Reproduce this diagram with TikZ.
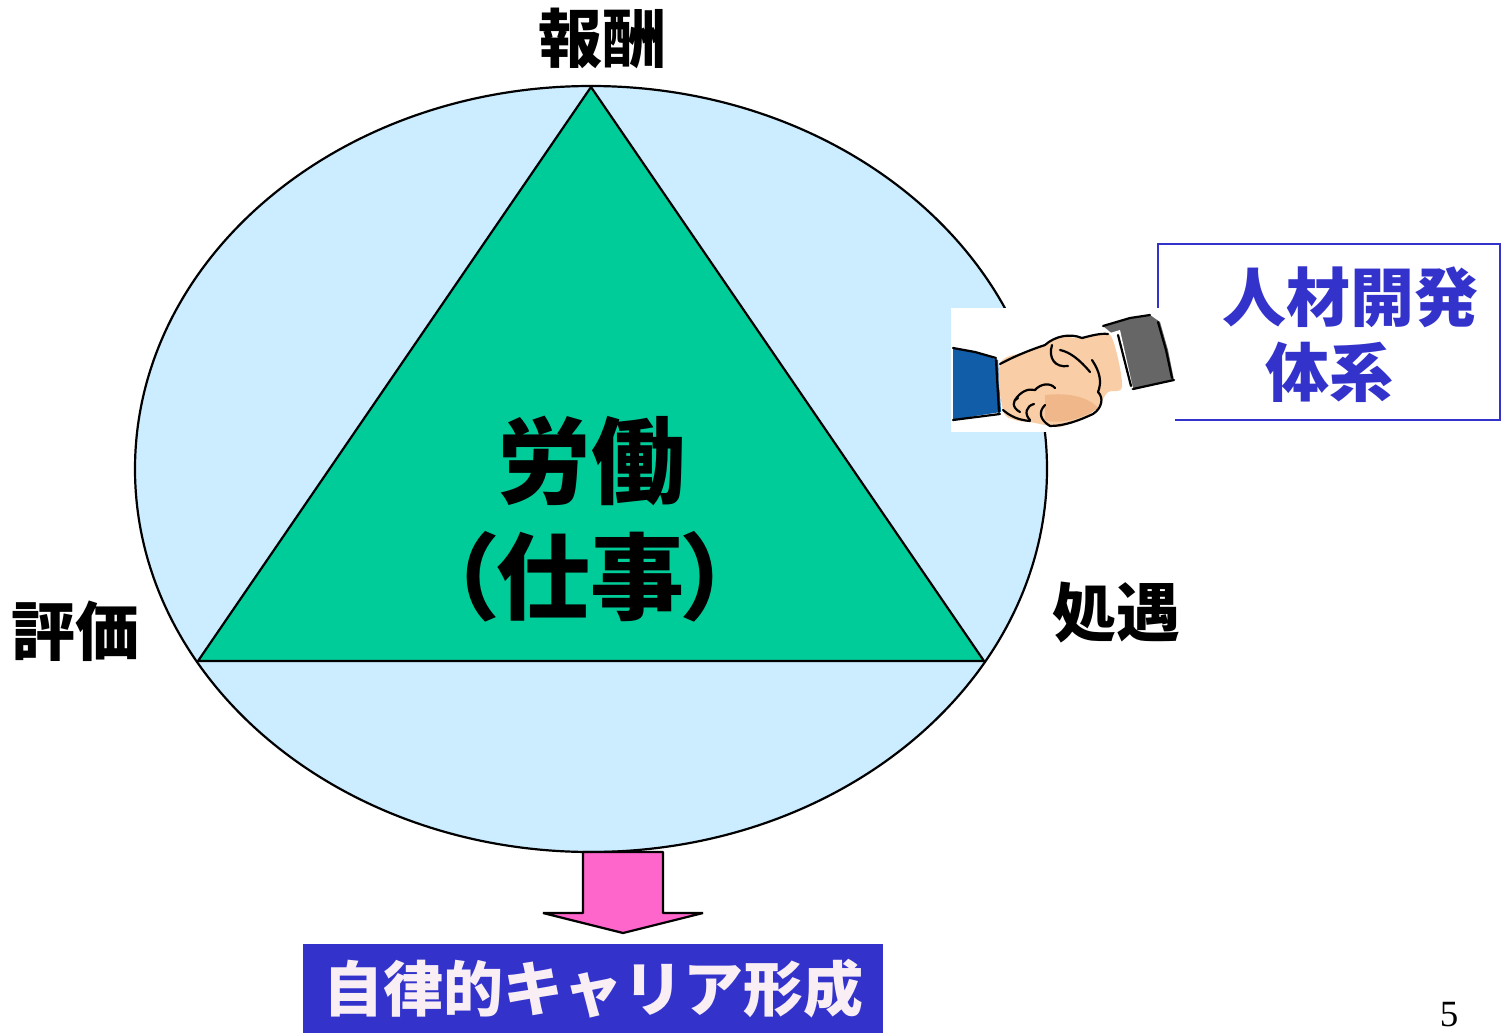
\documentclass[tikz,border=0pt]{standalone}
\usepackage{fontspec}
\newfontfamily\jp{Noto Sans CJK JP}
\newfontfamily\jpp{Noto Sans CJK JP}[RawFeature=+palt]
\setmainfont{Liberation Serif}
\definecolor{skyfill}{HTML}{CCECFF}
\definecolor{workgreen}{HTML}{00CC99}
\definecolor{arrowpink}{HTML}{FF66CC}
\definecolor{indigo}{HTML}{3333CC}
\definecolor{paletext}{HTML}{F8EEF4}
\definecolor{skin}{HTML}{F9CDA5}
\definecolor{skindark}{HTML}{F0B88A}
\definecolor{sleeveblue}{HTML}{125DA8}
\definecolor{sleevegray}{HTML}{666666}
\tikzset{
  corner/.style={font=\jp\bfseries\fontsize{64}{70}\selectfont, inner sep=0pt},
  center/.style={font=\jpp\bfseries\fontsize{94}{100}\selectfont, inner sep=0pt},
  bluetext/.style={font=\jp\bfseries\fontsize{64}{70}\selectfont, text=indigo, inner sep=0pt},
  ink/.style={draw=black, line width=2.2pt, line cap=round, line join=round},
}
\begin{document}
\begin{tikzpicture}[x=1pt,y=-1pt]
\useasboundingbox (0,0) rectangle (1502,1033);

% outer cycle and the work triangle
\draw[fill=skyfill, line width=2.2pt] (591,469) ellipse [x radius=456, y radius=383];
\coordinate (apex) at (591,87);
\coordinate (bl) at (198,661);
\coordinate (br) at (984,661);
\draw[fill=workgreen, line width=2.2pt, line join=miter] (apex) -- (br) -- (bl) -- cycle;

% vertex labels
\node[corner] (reward) at (602,38) {報酬};
\node[corner] (evaluation) at (75,631) {評価};
\node[corner] (treatment) at (1116,613) {処遇};
\node[center] (labour) at (591,461) {労働};
\node[center] (job) at (590,577) {（仕事）};

% downward arrow and result box
\draw[fill=arrowpink, line width=2.2pt, line join=bevel]
  (583,852) -- (663,852) -- (663,913) -- (703,913) -- (623,933) -- (543,913) -- (583,913) -- cycle;
\node[fill=indigo, minimum width=580pt, minimum height=89pt, inner sep=0pt,
      font=\jp\bfseries\fontsize{60}{66}\selectfont, text=paletext, anchor=north west]
  (career) at (303,944) {自律的キャリア形成};

% development system box
\draw[indigo, line width=2pt] (1158,244) rectangle (1500,420);
\node[bluetext] (hrd1) at (1350,297) {人材開発};
\node[bluetext] (hrd2) at (1329,372) {体系};

% handshake picture
\fill[white] (951,308) rectangle (1175,432);
% left sleeve
\fill[sleeveblue] (953,348) -- (975,352) -- (998,360) -- (1001,412) -- (975,416) -- (953,421) -- cycle;
\draw[ink] (953,348) -- (975,352) -- (996,358);
\draw[ink] (996,360) -- (999,412);
\draw[ink] (953,420) -- (1000,414);
% right sleeve
\fill[sleevegray] (1103,326) -- (1130,318) -- (1150,315) -- (1160,322) -- (1168,350) -- (1174,380) -- (1150,386) -- (1132,390) -- (1120,340) -- cycle;
\draw[ink] (1103,326) -- (1130,318) -- (1150,315);
\draw[ink] (1158,322) -- (1166,350) -- (1172,378);
\draw[ink] (1133,389) -- (1174,380);
% cuffs
\fill[white] (1110,333) -- (1120,330) -- (1133,388) -- (1122,390) -- cycle;
\draw[ink] (1118,335) -- (1131,386);
% hands
\fill[skin] plot[smooth cycle, tension=0.6] coordinates {
  (1000,364) (1025,352) (1048,343) (1062,337) (1080,338) (1098,334) (1112,338)
  (1122,386) (1108,392) (1100,404) (1090,414) (1075,420) (1060,427) (1045,425)
  (1030,422) (1015,420) (1003,410)};
\fill[skindark] (1045,395) .. controls (1070,392) and (1090,398) .. (1098,408)
  .. controls (1085,418) and (1060,425) .. (1045,420) -- cycle;
\draw[ink] (1000,364) .. controls (1015,356) and (1030,350) .. (1045,345);
\draw[ink] (1045,345) .. controls (1055,336) and (1070,333) .. (1082,338);
\draw[ink] (1082,338) .. controls (1090,336) and (1100,333) .. (1108,334);
\draw[ink] (1052,345) .. controls (1048,358) and (1055,368) .. (1068,366);
\draw[ink] (1060,350) .. controls (1070,352) and (1080,360) .. (1090,372);
\draw[ink] (1092,360) .. controls (1100,372) and (1102,382) .. (1098,392);
\draw[ink] (1098,392) .. controls (1104,398) and (1102,408) .. (1093,414);
\draw[ink] (1093,414) .. controls (1080,420) and (1065,426) .. (1050,426);
\draw[ink] (1050,426) .. controls (1040,420) and (1038,412) .. (1045,405);
\draw[ink] (1015,400) .. controls (1020,392) and (1028,388) .. (1035,390);
\draw[ink] (1035,390) .. controls (1040,384) and (1050,382) .. (1055,388);
\draw[ink] (1020,412) .. controls (1012,408) and (1012,400) .. (1018,398);
\draw[ink] (1030,420) .. controls (1024,414) and (1026,406) .. (1034,404);
\draw[ink] (1003,410) .. controls (1010,416) and (1018,420) .. (1030,421);

% page number
\node[font=\fontsize{37}{40}\selectfont, inner sep=0pt] (page) at (1449,1015) {5};
\end{tikzpicture}
\end{document}
